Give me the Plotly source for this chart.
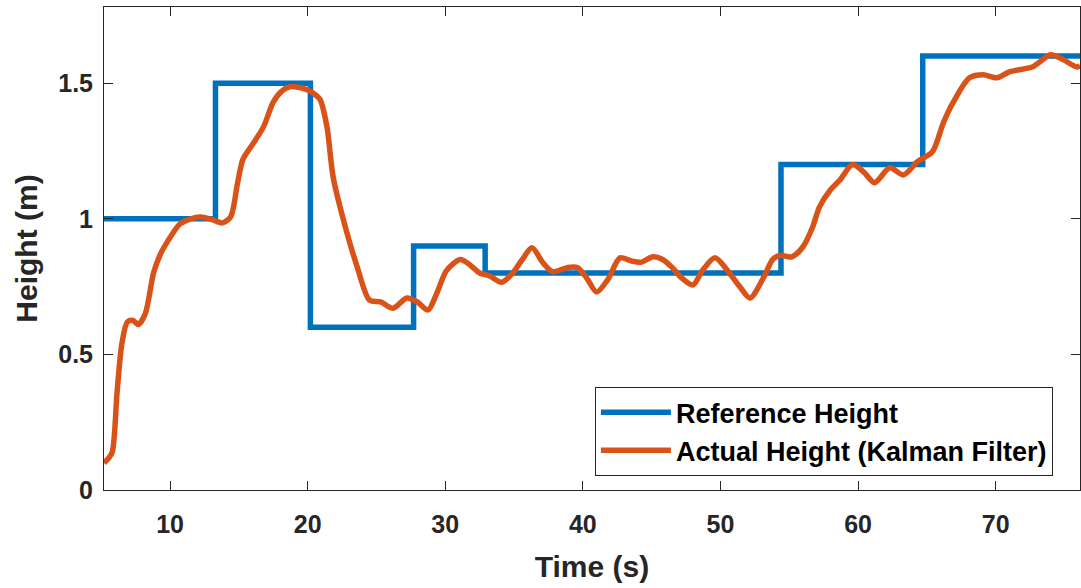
import plotly.graph_objects as go

# Reference (setpoint) height: step changes
t_ref = [5.2, 13.3, 20.2, 27.7, 32.9, 54.4, 64.7, 76.13]
h_ref = [1.0, 1.5, 0.6, 0.9, 0.8, 1.2, 1.6, 1.6]

# Actual height (Kalman filter estimate)
t_act = [5.2, 5.5, 5.8, 6.15, 6.5, 6.9, 7.3, 7.7, 8.2, 8.8, 9.3, 9.8, 10.7, 11.5,
         12.2, 12.9, 13.4, 13.8, 14.4, 14.9, 15.3, 15.8, 16.2, 16.8, 17.5, 18.1,
         18.7, 19.3, 19.96, 20.5, 20.9, 21.4, 21.85, 22.6, 23.6, 24.5, 25.3, 26.2,
         27.2, 27.95, 28.75, 29.4, 30.1, 31.1, 31.8, 32.5, 33.2, 34.1, 34.9, 35.6,
         36.3, 37.1, 37.8, 38.85, 39.6, 40.3, 41.0, 41.8, 42.7, 43.5, 44.2, 45.1,
         45.8, 46.5, 47.1, 48.0, 48.7, 49.6, 50.5, 51.4, 52.15, 53.1, 53.8, 54.3,
         55.2, 56.0, 56.7, 57.2, 58.0, 58.7, 59.6, 60.4, 61.2, 62.3, 63.3, 64.3,
         65.4, 66.2, 66.9, 68.1, 69.1, 70.1, 71.0, 72.7, 74.0, 74.9, 75.9, 76.13]
h_act = [0.10, 0.115, 0.14, 0.36, 0.54, 0.62, 0.625, 0.61, 0.65, 0.80, 0.87, 0.915,
         0.98, 1.0, 1.007, 1.0, 0.99, 0.985, 1.007, 1.13, 1.22, 1.26, 1.29, 1.34,
         1.43, 1.47, 1.487, 1.485, 1.476, 1.46, 1.44, 1.34, 1.155, 0.996, 0.823,
         0.70, 0.694, 0.67, 0.708, 0.694, 0.664, 0.727, 0.81, 0.85, 0.83, 0.80,
         0.79, 0.766, 0.80, 0.85, 0.893, 0.838, 0.805, 0.82, 0.82, 0.78, 0.73,
         0.775, 0.856, 0.845, 0.84, 0.86, 0.85, 0.82, 0.786, 0.756, 0.81, 0.856,
         0.81, 0.75, 0.708, 0.78, 0.85, 0.865, 0.86, 0.897, 0.97, 1.044, 1.107,
         1.144, 1.2, 1.173, 1.133, 1.188, 1.162, 1.21, 1.247, 1.354, 1.428, 1.52,
         1.531, 1.52, 1.542, 1.561, 1.605, 1.587, 1.56, 1.565]

x_ticks = [10, 20, 30, 40, 50, 60, 70]
y_ticks = [0, 0.5, 1, 1.5]
y_tick_text = ["0", "0.5", "1", "1.5"]

FONT = "Liberation Sans"
DARK = "#262626"

fig = go.Figure()
fig.add_trace(go.Scatter(
    x=t_ref, y=h_ref, mode="lines", line_shape="hv",
    line=dict(color="#0072BD", width=5.5),
    name="<b>Reference Height</b>"))
fig.add_trace(go.Scatter(
    x=t_act, y=h_act, mode="lines", line_shape="spline",
    line=dict(color="#D95319", width=5.5, smoothing=0.8),
    name="<b>Actual Height (Kalman Filter)</b>"))

axis_common = dict(
    showline=True, linecolor=DARK, linewidth=1, mirror="ticks",
    ticks="inside", ticklen=9, tickcolor=DARK, tickwidth=1,
    showgrid=False, zeroline=False,
    tickfont=dict(family=FONT, size=25, color=DARK),
)

fig.update_layout(
    width=1081, height=588,
    margin=dict(l=104, r=1, t=7, b=98),
    paper_bgcolor="white", plot_bgcolor="white",
    showlegend=True,
    legend=dict(
        x=0.503, y=0.213, xanchor="left", yanchor="top",
        bgcolor="white", bordercolor=DARK, borderwidth=1,
        font=dict(family=FONT, size=27, color="#000000"),
        itemwidth=70, tracegroupgap=0,
    ),
    xaxis=dict(
        range=[5.2, 76.13], tickvals=x_ticks,
        ticktext=[f"<b>{v}</b>" for v in x_ticks],
        ticklabelstandoff=12,
        title=dict(text="<b>Time (s)</b>", standoff=18,
                   font=dict(family=FONT, size=30, color=DARK)),
        **axis_common),
    yaxis=dict(
        range=[0, 1.781], tickvals=y_ticks,
        ticktext=[f"<b>{v}</b>" for v in y_tick_text],
        ticklabelstandoff=5,
        title=dict(text="<b>Height (m)</b>", standoff=11,
                   font=dict(family=FONT, size=30, color=DARK)),
        **axis_common),
)

fig.write_html("out.html")
